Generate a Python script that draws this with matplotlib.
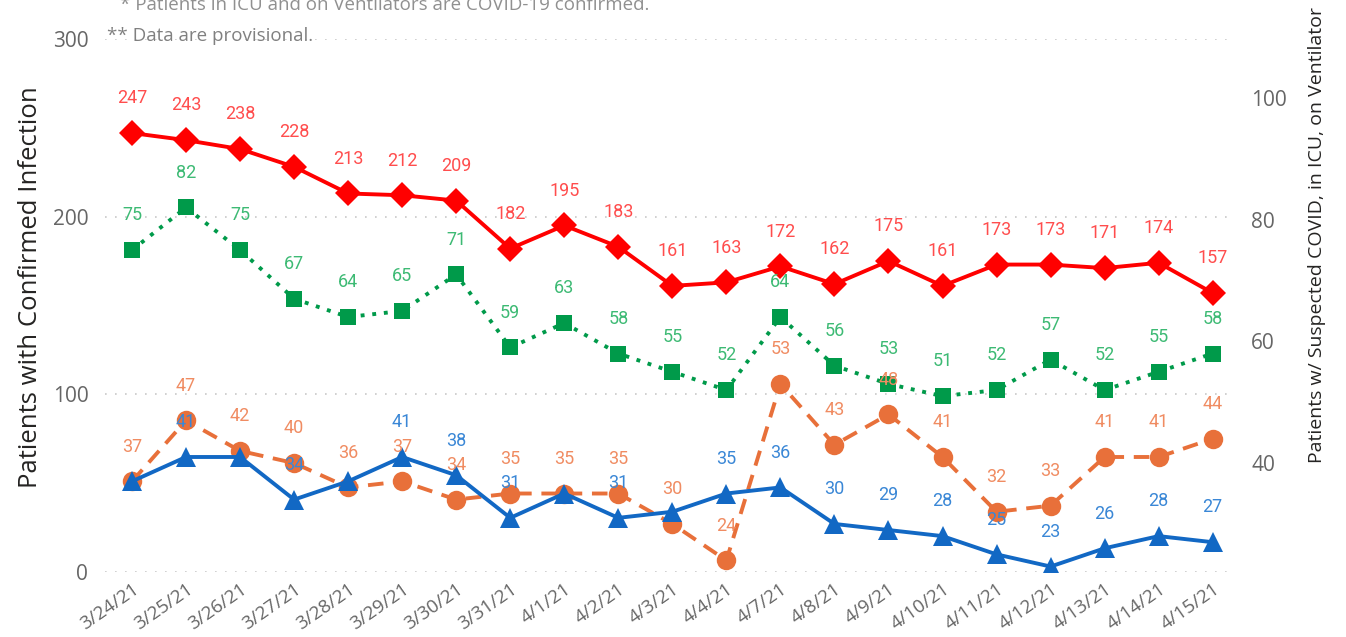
import matplotlib
matplotlib.use("Agg")
import matplotlib.pyplot as plt

dates = ["3/24/21", "3/25/21", "3/26/21", "3/27/21", "3/28/21", "3/29/21", "3/30/21",
         "3/31/21", "4/1/21", "4/2/21", "4/3/21", "4/4/21", "4/7/21", "4/8/21",
         "4/9/21", "4/10/21", "4/11/21", "4/12/21", "4/13/21", "4/14/21", "4/15/21"]

# left axis
confirmed = [247, 243, 238, 228, 213, 212, 209, 182, 195, 183, 161, 163, 172, 162,
             175, 161, 173, 173, 171, 174, 157]
# right axis
suspected = [75, 82, 75, 67, 64, 65, 71, 59, 63, 58, 55, 52, 64, 56, 53, 51, 52, 57,
             52, 55, 58]
icu = [37, 47, 42, 40, 36, 37, 34, 35, 35, 35, 30, 24, 53, 43, 48, 41, 32, 33, 41, 41, 44]
vent = [37, 41, 41, 34, 37, 41, 38, 31, 35, 31, 32, 35, 36, 30, 29, 28, 25, 23, 26, 28, 27]

# data labels the chart drops because they collide with others
vent_hidden = {0, 2, 4, 8, 10}

LABEL_FONT = ["Roboto", "DejaVu Sans"]
UI_FONT = ["Open Sans", "DejaVu Sans"]
TICK_GRAY = "#666666"

fig = plt.figure(figsize=(13.46, 6.37), dpi=100)
ax = fig.add_axes([0.078, 0.102, 0.837, 0.837])
ax2 = ax.twinx()

x = list(range(len(dates)))

ax.set_ylim(0, 300)
ax.set_yticks([0, 100, 200, 300])
ax2.set_ylim(22.1, 109.7)
ax2.set_yticks([40, 60, 80, 100])
ax.set_xlim(-0.5, 20.35)

for y in [0, 100, 200, 300]:
    ax.axhline(y, color="#c8c8c8", lw=1.2, ls=(0, (1, 5)), zorder=0)

series = [
    (ax, confirmed, "#ff0000", "#ff4d4d", "-", "D", 13, set()),
    (ax2, suspected, "#009a4a", "#3dba74", (0, (1, 2)), "s", 12, set()),
    (ax2, icu, "#e8703a", "#f08c62", (0, (4, 2.5)), "o", 14, set()),
    (ax2, vent, "#1268c4", "#3a87d6", "-", "^", 14, vent_hidden),
]
for a, vals, col, lcol, ls, mk, ms, hidden in series:
    a.plot(x, vals, color=col, lw=2.8, ls=ls, marker=mk, markersize=ms,
           markeredgewidth=0, zorder=3)
    for xi, v in zip(x, vals):
        if xi in hidden:
            continue
        a.annotate(str(v), (xi, v), xytext=(0, 25), textcoords="offset points",
                   ha="center", va="center", color=lcol, fontsize=13,
                   family=LABEL_FONT, zorder=4)

for a in (ax, ax2):
    for s in a.spines.values():
        s.set_visible(False)
    a.tick_params(length=0)

ax.set_xticks(x)
ax.set_xticklabels(dates, rotation=35, ha="right", rotation_mode="anchor",
                   fontsize=13.5, color=TICK_GRAY, family=UI_FONT)
ax.tick_params(axis="x", pad=6)
ax.tick_params(axis="y", labelsize=15, labelcolor=TICK_GRAY, pad=12)
ax2.tick_params(axis="y", labelsize=15, labelcolor=TICK_GRAY, pad=14)
for t in ax.get_yticklabels() + ax2.get_yticklabels():
    t.set_family(UI_FONT)

ax.set_ylabel("Patients with Confirmed Infection", fontsize=18.5, color="#252423",
              family=UI_FONT)
ax.yaxis.set_label_coords(-0.055, 0.535)
ax2.set_ylabel("Patients w/ Suspected COVID, in ICU, on Ventilator", fontsize=14,
               color="#252423", family=UI_FONT)
ax2.yaxis.set_label_coords(1.068, 0.632)

fig.text(0.089, 0.992, "* Patients in ICU and on Ventilators are COVID-19 confirmed.",
         fontsize=13.5, color="#909090", family=UI_FONT, va="center")
fig.text(0.0795, 0.943, "** Data are provisional.", fontsize=13.5, color="#808080",
         family=UI_FONT, va="center")

fig.savefig("out.png", dpi=100)
